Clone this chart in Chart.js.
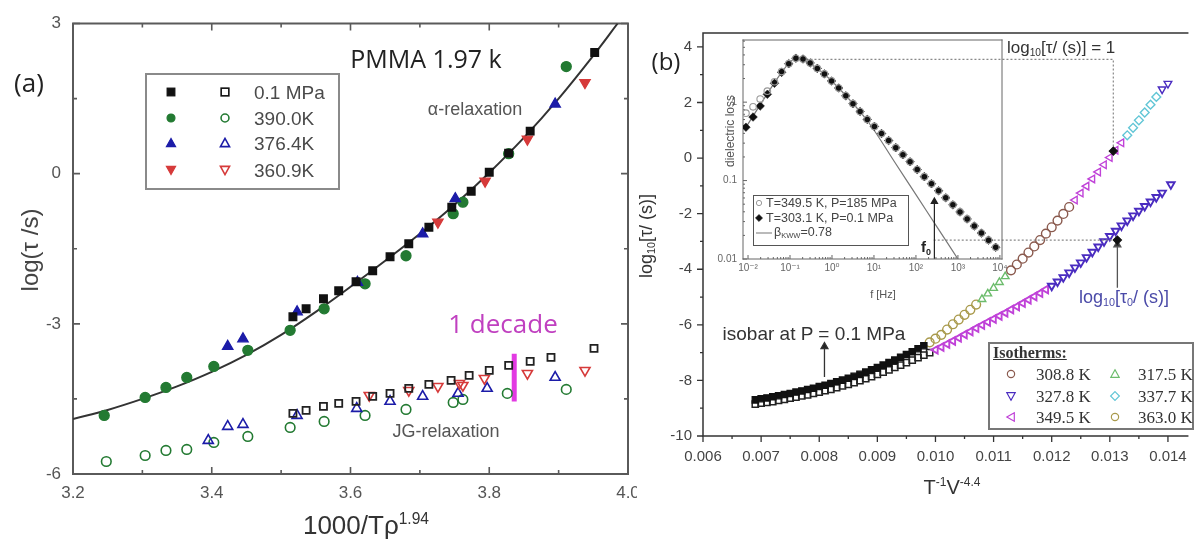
<!DOCTYPE html>
<html><head><meta charset="utf-8">
<script src="https://cdn.jsdelivr.net/npm/chart.js@4.4.1/dist/chart.umd.min.js"></script>
<style>
html,body{margin:0;padding:0;background:#fff;}
#wrap{position:relative;width:1194px;height:540px;overflow:hidden;background:#fff;font-family:'Liberation Sans',Arial,sans-serif;}
canvas{position:absolute;}
.t{position:absolute;white-space:nowrap;line-height:1;transform:translate(-50%,-50%);}
.l{position:absolute;white-space:nowrap;line-height:1;transform:translate(0,-50%);}
.sup{font-size:0.6em;position:relative;top:-0.65em;}
.sub{font-size:0.6em;position:relative;top:0.3em;}
.box{position:absolute;box-sizing:border-box;background:#fff;}
.mk{position:absolute;transform:translate(-50%,-50%);line-height:0;}
</style></head><body>
<div id="wrap">
<canvas id="ca" width="637" height="540" style="left:0;top:0"></canvas>
<canvas id="cb" width="574" height="540" style="left:620px;top:0"></canvas>
<canvas id="cc" width="320" height="280" style="left:700px;top:30px"></canvas>

<!-- panel (a) texts -->
<div class="t" style="left:29px;top:82px;font-family:'Open Sans';font-size:26px;color:#222">(a)</div>
<div class="t" style="left:426px;top:58px;font-family:'Open Sans';font-size:25px;color:#222">PMMA 1.97 k</div>
<div class="t" style="left:475px;top:109px;font-size:18px;color:#555">α-relaxation</div>
<div class="t" style="left:446px;top:431px;font-size:18px;color:#555">JG-relaxation</div>
<div class="t" style="left:503px;top:323px;font-family:'Open Sans';font-size:26px;color:#c040c0">1 decade</div>
<div class="t" style="left:30px;top:250px;font-size:24px;color:#444;transform:translate(-50%,-50%) rotate(-90deg)">log(τ /s)</div>
<div class="t" style="left:366px;top:525px;font-size:26px;color:#333">1000/Tρ<span class="sup">1.94</span></div>
<div class="box" id="legA" style="left:145px;top:73px;width:195px;height:117px;border:2px solid #8a8a8a;background:transparent"></div>

<!-- panel (b) texts -->
<div class="t" style="left:666px;top:61px;font-family:'Open Sans';font-size:24px;color:#222">(b)</div>
<div class="t" style="left:646px;top:236px;font-size:18px;color:#333;transform:translate(-50%,-50%) rotate(-90deg)">log<span class="sub">10</span>[τ/ (s)]</div>
<div class="t" style="left:952px;top:487px;font-size:20px;color:#333">T<span class="sup">-1</span>V<span class="sup">-4.4</span></div>
<div class="t" style="left:814px;top:333px;font-size:19px;color:#333">isobar at P = 0.1 MPa</div>
<div class="l" style="left:1007px;top:47px;font-size:17px;color:#333">log<span class="sub">10</span>[τ/ (s)] = 1</div>
<div class="t" style="left:1124px;top:297px;font-size:18px;color:#4a4aa8">log<span class="sub">10</span>[τ<span class="sub">0</span>/ (s)]</div>
<div class="t" style="left:926px;top:246px;font-size:15px;font-weight:bold;color:#222">f<span class="sub">0</span></div>
<div class="t" style="left:730px;top:131px;font-size:12px;color:#555;transform:translate(-50%,-50%) rotate(-90deg)">dielectric loss</div>
<div class="t" style="left:883px;top:294px;font-size:11px;color:#555">f [Hz]</div>
<div class="box" id="legC" style="left:753px;top:195px;width:156px;height:51px;border:1px solid #555"></div>
<div class="box" id="legB" style="left:988px;top:342px;width:206px;height:88px;border:2px solid #777"></div>
</div>

<script>
// ---------------- DATA: panel (a) ----------------
const aXTicks = [3.2, 3.4, 3.6, 3.8, 4.0];
const aXMinor = [3.3, 3.5, 3.7, 3.9];
const aYTicks = [-6, -3, 0, 3];
const aYMinor = [-4.5, -1.5, 1.5];
const aSeriesNames = ['0.1 MPa', '390.0K', '376.4K', '360.9K'];

const aAlphaBlackX = [3.517,3.536,3.561,3.583,3.608,3.632,3.657,3.684,3.713,3.746,3.774,3.80,3.828,3.859,3.952];
const aAlphaBlackY = [-2.86,-2.70,-2.50,-2.34,-2.16,-1.94,-1.66,-1.40,-1.07,-0.67,-0.35,0.03,0.41,0.85,2.42];
const aAlphaGreenX = [3.245,3.304,3.334,3.364,3.403,3.452,3.513,3.562,3.621,3.68,3.748,3.762,3.828,3.911];
const aAlphaGreenY = [-4.83,-4.47,-4.27,-4.07,-3.85,-3.53,-3.13,-2.70,-2.20,-1.64,-0.80,-0.57,0.40,2.14];
const aAlphaBlueX = [3.423,3.445,3.523,3.61,3.704,3.751,3.895];
const aAlphaBlueY = [-3.45,-3.30,-2.76,-2.17,-1.20,-0.50,1.39];
const aAlphaRedX = [3.726,3.794,3.855,3.938];
const aAlphaRedY = [-0.97,-0.15,0.69,1.82];

const aJGBlackX = [3.517,3.536,3.561,3.583,3.608,3.632,3.657,3.684,3.713,3.745,3.771,3.80,3.828,3.859,3.889,3.951];
const aJGBlackY = [-4.79,-4.73,-4.65,-4.59,-4.55,-4.45,-4.39,-4.29,-4.21,-4.13,-4.03,-3.93,-3.83,-3.75,-3.67,-3.49];
const aJGGreenX = [3.248,3.304,3.334,3.364,3.403,3.452,3.513,3.562,3.621,3.68,3.748,3.762,3.826,3.911];
const aJGGreenY = [-5.75,-5.63,-5.53,-5.51,-5.37,-5.25,-5.07,-4.95,-4.83,-4.71,-4.57,-4.51,-4.39,-4.31];
const aJGBlueX = [3.395,3.423,3.445,3.523,3.609,3.657,3.704,3.755,3.797,3.895];
const aJGBlueY = [-5.33,-5.05,-5.01,-4.83,-4.69,-4.55,-4.45,-4.39,-4.29,-4.07];
const aJGRedX = [3.627,3.684,3.726,3.757,3.762,3.793,3.855,3.938];
const aJGRedY = [-4.43,-4.33,-4.25,-4.19,-4.23,-4.09,-3.99,-3.93];

const aFitX = [3.2,3.25,3.3,3.35,3.4,3.45,3.5,3.55,3.6,3.65,3.7,3.75,3.8,3.85,3.9,3.95,3.985];
const aFitY = [-4.90,-4.72,-4.50,-4.25,-3.96,-3.62,-3.22,-2.76,-2.26,-1.74,-1.20,-0.62,0.02,0.72,1.50,2.36,3.0];
const aDecadeX = [3.836, 3.836];
const aDecadeY = [-3.60, -4.55];

// ---------------- DATA: panel (b) ----------------
const bXTicks = [0.006,0.007,0.008,0.009,0.010,0.011,0.012,0.013,0.014];
const bXMinor = [0.0065,0.0075,0.0085,0.0095,0.0105,0.0115,0.0125,0.0135];
const bYTicks = [-10,-8,-6,-4,-2,0,2,4];
const bYMinor = [-9,-7,-5,-3,-1,1,3];
const bIsoNames = ['308.8 K','317.5 K','327.8 K','337.7 K','349.5 K','363.0 K'];

const bIsobarAlphaX = [0.0069,0.0070,0.0071,0.0072,0.0073,0.0074,0.0075,0.0076,0.0077,0.0078,0.0079,0.0080,0.0081,0.0082,0.0083,0.0084,0.0085,0.0086,0.0087,0.0088,0.0089,0.0090,0.0091,0.0092,0.0093,0.0094,0.0095,0.0096,0.0097,0.0098];
const bIsobarAlphaY = [-8.70,-8.66,-8.63,-8.59,-8.55,-8.51,-8.47,-8.42,-8.38,-8.33,-8.28,-8.22,-8.17,-8.11,-8.05,-7.99,-7.92,-7.85,-7.78,-7.70,-7.62,-7.54,-7.45,-7.36,-7.27,-7.17,-7.07,-6.97,-6.86,-6.75];
const bIsobarTau0X = [0.0069,0.0070,0.0071,0.0072,0.0073,0.0074,0.0075,0.0076,0.0077,0.0078,0.0079,0.0080,0.0081,0.0082,0.0083,0.0084,0.0085,0.0086,0.0087,0.0088,0.0089,0.0090,0.0091,0.0092,0.0093,0.0094,0.0095,0.0096,0.0097,0.0098,0.0099];
const bIsobarTau0Y = [-8.85,-8.82,-8.79,-8.76,-8.72,-8.68,-8.64,-8.60,-8.56,-8.52,-8.47,-8.42,-8.37,-8.32,-8.26,-8.20,-8.14,-8.08,-8.01,-7.94,-7.86,-7.78,-7.70,-7.62,-7.53,-7.45,-7.36,-7.27,-7.18,-7.09,-7.00];

const b363X = [0.0099,0.0100,0.0101,0.0102,0.0103,0.0104,0.0105,0.0106,0.0107];
const b363Y = [-6.63,-6.50,-6.36,-6.17,-5.98,-5.81,-5.64,-5.46,-5.27];
const b317X = [0.0108,0.0109,0.0110,0.0111,0.0112];
const b317Y = [-5.08,-4.88,-4.68,-4.47,-4.26];
const b308X = [0.0113,0.0114,0.0115,0.0116,0.0117,0.0118,0.0119,0.0120,0.0121,0.0122,0.0123];
const b308Y = [-4.04,-3.83,-3.62,-3.40,-3.18,-2.95,-2.72,-2.49,-2.25,-2.01,-1.76];
const b349UpX = [0.0124,0.0125,0.0126,0.0127,0.0128,0.0129,0.0130,0.0131,0.0132];
const b349UpY = [-1.51,-1.26,-1.01,-0.75,-0.50,-0.24,0.02,0.28,0.55];
const b337X = [0.0133,0.0134,0.0135,0.0136,0.0137,0.0138];
const b337Y = [0.82,1.09,1.36,1.64,1.92,2.20];
const b327UpX = [0.0139,0.0140];
const b327UpY = [2.48,2.68];
const b349LowX = [0.0100,0.0101,0.0102,0.0103,0.0104,0.0105,0.0106,0.0107,0.0108,0.0109,0.0110,0.0111,0.0112,0.0113,0.0114,0.0115,0.0116,0.0117,0.0118,0.0119];
const b349LowY = [-6.90,-6.80,-6.69,-6.58,-6.47,-6.35,-6.24,-6.12,-6.01,-5.90,-5.79,-5.68,-5.57,-5.45,-5.34,-5.22,-5.10,-4.98,-4.86,-4.73];
const b327LowX = [0.0120,0.0121,0.0122,0.0123,0.0124,0.0125,0.0126,0.0127,0.0128,0.0129,0.0130,0.0131,0.0132,0.0133,0.0134,0.0135,0.0136,0.0137,0.0138,0.0139,0.01405];
const b327LowY = [-4.60,-4.45,-4.29,-4.12,-3.94,-3.76,-3.57,-3.38,-3.19,-3.00,-2.81,-2.62,-2.43,-2.25,-2.07,-1.90,-1.73,-1.57,-1.41,-1.25,-0.95];
const bRefX = [0.01306, 0.01313];
const bRefY = [0.25, -2.95];
// guide lines (data units)
const bGuideTopX = [0.00778, 0.01306, 0.01306];
const bGuideTopY = [3.55, 3.55, 0.29];
const bGuideLowX = [0.00997, 0.01313];
const bGuideLowY = [-2.95, -2.95];
const bTau0ArrowX = [0.01313, 0.01313];
const bTau0ArrowY = [-4.67, -3.12];
const bIsobarArrowX = [0.00809, 0.00809];
const bIsobarArrowY = [-7.88, -6.78];

// ---------------- DATA: inset ----------------
const cXTicks = [0.01, 0.1, 1, 10, 100, 1000, 10000];
const cYTicks = [0.01, 0.1, 1];
const cFreq = [0.008913,0.013183,0.019498,0.028840,0.042658,0.063096,0.093325,0.138038,0.204174,0.301995,0.446684,0.660693,0.977237,1.44544,2.13796,3.16228,4.67735,6.91831,10.2329,15.1356,22.3872,33.1131,48.9779,72.4436,107.152,158.489,234.423,346.737,512.861,758.578,1122.02,1659.59,2454.71,3630.78,5370.32,7943.28];
const cLoss303 = [0.4786,0.6457,0.8913,1.2589,1.7378,2.3988,3.0903,3.6308,3.5481,3.1623,2.6915,2.2909,1.8621,1.5136,1.2023,0.9550,0.7586,0.6026,0.4898,0.3981,0.3236,0.2630,0.2138,0.1738,0.1380,0.1122,0.0912,0.0741,0.0603,0.0490,0.0398,0.0324,0.0263,0.0214,0.0174,0.0141];
const cLoss349 = [0.7244,0.8710,1.0965,1.3804,1.8197,2.4547,3.0903,3.6308,3.5481,3.1623,2.6915,2.2909,1.8621,1.5136,1.2023,0.9550,0.7586,0.6026,0.4898,0.3981,0.3236,0.2630,0.2138,0.1738,0.1380,0.1122,0.0912,0.0741,0.0603,0.0490,0.0398,0.0324,0.0263,0.0214,0.0174,0.0141];
const cKwwF = [0.008913,0.063096,0.138038,0.446684,1.44544,7.2444,31.6228,100,316.228,1000];
const cKwwLoss = [0.4786,2.3988,3.6308,2.6915,1.5136,0.5623,0.1698,0.0661,0.0257,0.0100];
const cF0ArrowX = [275, 275];
const cF0ArrowY = [0.0101, 0.054];

// ---------------- helpers ----------------
const pts = (xs, ys) => xs.map((x, i) => ({x, y: ys[i]}));
const frameTicks = {
  id: 'frameTicks',
  beforeDatasetsDraw(chart, args, o) {
    const {ctx, chartArea: a} = chart; const xs = chart.scales.x, ys = chart.scales.y;
    ctx.save();
    ctx.strokeStyle = o.color; ctx.lineWidth = o.width; ctx.lineCap = 'square';
    ctx.beginPath();
    if (o.sides.includes('top')) { ctx.moveTo(a.left, a.top); ctx.lineTo(a.right, a.top); }
    if (o.sides.includes('bottom')) { ctx.moveTo(a.left, a.bottom); ctx.lineTo(a.right, a.bottom); }
    if (o.sides.includes('left')) { ctx.moveTo(a.left, a.top); ctx.lineTo(a.left, a.bottom); }
    if (o.sides.includes('right')) { ctx.moveTo(a.right, a.top); ctx.lineTo(a.right, a.bottom); }
    ctx.stroke();
    ctx.lineCap = 'butt';
    ctx.lineWidth = o.tickWidth || o.width;
    const d = o.inward ? 1 : -1;
    ctx.beginPath();
    const xt = (vals, len) => vals.forEach(v => {
      const p = xs.getPixelForValue(v); if (p < a.left - 1 || p > a.right + 1) return;
      o.tickSides.forEach(s => {
        if (s === 'bottom') { ctx.moveTo(p, a.bottom); ctx.lineTo(p, a.bottom - d * len); }
        if (s === 'top') { ctx.moveTo(p, a.top); ctx.lineTo(p, a.top + d * len); }
      });
    });
    const yt = (vals, len) => vals.forEach(v => {
      const p = ys.getPixelForValue(v); if (p < a.top - 1 || p > a.bottom + 1) return;
      o.tickSides.forEach(s => {
        if (s === 'left') { ctx.moveTo(a.left, p); ctx.lineTo(a.left + d * len, p); }
        if (s === 'right') { ctx.moveTo(a.right, p); ctx.lineTo(a.right - d * len, p); }
      });
    });
    xt(o.xMajor, o.majorLen); xt(o.xMinor, o.minorLen);
    yt(o.yMajor, o.majorLen); yt(o.yMinor, o.minorLen);
    ctx.stroke();
    ctx.restore();
  }
};
function sc(data, style) {
  return Object.assign({data, pointRadius: 4, pointBorderWidth: 1.3, showLine: false}, style);
}
const baseOpts = (pad) => ({
  responsive: false, animation: false, devicePixelRatio: 1, events: [],
  layout: {padding: pad},
  plugins: {legend: {display: false}, tooltip: {enabled: false}}
});
const fixAxis = (size, horiz) => (s) => {
  if (horiz) s.height = size; else s.width = size;
  s.paddingLeft = 0; s.paddingRight = 0; s.paddingTop = 0; s.paddingBottom = 0;
};

// ---------------- chart (a) ----------------
const optsA = baseOpts({left: 0, right: 9, top: 23.5, bottom: 0});
optsA.plugins.frameTicks = {color: '#5a5a5a', width: 2, tickWidth: 1.6, inward: true,
  sides: ['top','bottom','left','right'], tickSides: ['top','bottom','left','right'],
  xMajor: aXTicks, xMinor: aXMinor, yMajor: aYTicks, yMinor: aYMinor, majorLen: 7, minorLen: 4};
const tickFontA = {family: 'Liberation Sans', size: 17};
optsA.scales = {
  x: {type: 'linear', min: 3.2, max: 4.0, grid: {display: false, drawTicks: false}, border: {display: false},
      ticks: {font: tickFontA, color: '#555', padding: 9, autoSkip: false, maxRotation: 0, callback: v => Number(v).toFixed(1)},
      afterBuildTicks: s => { s.ticks = aXTicks.map(v => ({value: v})); }, afterFit: fixAxis(66, true)},
  y: {type: 'linear', min: -6, max: 3, grid: {display: false, drawTicks: false}, border: {display: false},
      ticks: {font: tickFontA, color: '#555', padding: 12, autoSkip: false, callback: v => String(v)},
      afterBuildTicks: s => { s.ticks = aYTicks.map(v => ({value: v})); }, afterFit: fixAxis(73, false)}
};
const cBlack = '#111', cGreen = '#237a32', cBlue = '#1c1ca8', cRed = '#d63a3a';
new Chart(document.getElementById('ca'), {
  type: 'scatter',
  data: {datasets: [
    sc(pts(aAlphaBlackX, aAlphaBlackY), {pointStyle: 'rect', pointRadius: 5.4, backgroundColor: cBlack, borderColor: cBlack}),
    sc(pts(aAlphaRedX, aAlphaRedY), {pointStyle: 'triangle', rotation: 180, pointRadius: 6, backgroundColor: cRed, borderColor: cRed}),
    sc(pts(aAlphaBlueX, aAlphaBlueY), {pointStyle: 'triangle', pointRadius: 6, backgroundColor: cBlue, borderColor: cBlue}),
    sc(pts(aAlphaGreenX, aAlphaGreenY), {pointStyle: 'circle', pointRadius: 5, backgroundColor: cGreen, borderColor: cGreen}),
    sc(pts(aJGBlackX, aJGBlackY), {pointStyle: 'rect', pointRadius: 5, backgroundColor: 'rgba(255,255,255,0)', borderColor: '#222', pointBorderWidth: 1.8}),
    sc(pts(aJGRedX, aJGRedY), {pointStyle: 'triangle', rotation: 180, pointRadius: 5.8, backgroundColor: 'rgba(255,255,255,0)', borderColor: cRed, pointBorderWidth: 1.6}),
    sc(pts(aJGBlueX, aJGBlueY), {pointStyle: 'triangle', pointRadius: 5.8, backgroundColor: 'rgba(255,255,255,0)', borderColor: cBlue, pointBorderWidth: 1.6}),
    sc(pts(aJGGreenX, aJGGreenY), {pointStyle: 'circle', pointRadius: 4.8, backgroundColor: 'rgba(255,255,255,0)', borderColor: cGreen, pointBorderWidth: 1.6}),
    sc(pts(aDecadeX, aDecadeY), {showLine: true, borderColor: '#e23ae2', borderWidth: 5, pointRadius: 0, borderCapStyle: 'butt'}),
    sc(pts(aFitX, aFitY), {showLine: true, borderColor: '#333', borderWidth: 2, pointRadius: 0, tension: 0.4})
  ]},
  options: optsA,
  plugins: [frameTicks]
});

// ---------------- chart (b) ----------------
const optsB = baseOpts({left: 0, right: 0, top: 33, bottom: 0});
optsB.plugins.frameTicks = {color: '#333', width: 1.5, tickWidth: 1.3, inward: false,
  sides: ['top','bottom','left'], tickSides: ['bottom','left'],
  xMajor: bXTicks, xMinor: bXMinor, yMajor: bYTicks, yMinor: bYMinor, majorLen: 6, minorLen: 3};
const tickFontB = {family: 'Liberation Sans', size: 15};
optsB.scales = {
  x: {type: 'linear', min: 0.006, max: 0.01434, grid: {display: false, drawTicks: false}, border: {display: false},
      ticks: {font: tickFontB, color: '#444', padding: 12, autoSkip: false, maxRotation: 0, callback: v => Number(v).toFixed(3)},
      afterBuildTicks: s => { s.ticks = bXTicks.map(v => ({value: v})); }, afterFit: fixAxis(104, true)},
  y: {type: 'linear', min: -10, max: 4.5, grid: {display: false, drawTicks: false}, border: {display: false},
      ticks: {font: tickFontB, color: '#444', padding: 11, autoSkip: false, callback: v => String(v)},
      afterBuildTicks: s => { s.ticks = bYTicks.map(v => ({value: v})); }, afterFit: fixAxis(83, false)}
};
const iso = {
  '308.8 K': {style: 'circle', rot: 0, color: '#8a5a4e'},
  '317.5 K': {style: 'triangle', rot: 0, color: '#6cbc6c'},
  '327.8 K': {style: 'triangle', rot: 180, color: '#4a2cc0'},
  '337.7 K': {style: 'rectRot', rot: 0, color: '#62c6d6'},
  '349.5 K': {style: 'triangle', rot: -90, color: '#c042d8'},
  '363.0 K': {style: 'circle', rot: 0, color: '#a99a4c'}
};
const isoDs = (name, xs, ys, bw) => sc(pts(xs, ys), {pointStyle: iso[name].style, rotation: iso[name].rot, pointRadius: 4.4,
  backgroundColor: 'rgba(255,255,255,0)', borderColor: iso[name].color, pointBorderWidth: bw || 1.4});
new Chart(document.getElementById('cb'), {
  type: 'scatter',
  data: {datasets: [
    sc(pts(bRefX, bRefY), {pointStyle: 'rectRot', pointRadius: 4, backgroundColor: '#111', borderColor: '#111'}),
    sc(pts(bTau0ArrowX, bTau0ArrowY), {showLine: true, borderWidth: 1.3, pointStyle: 'triangle', pointRadius: [0, 4], backgroundColor: '#333', borderColor: '#555'}),
    sc(pts(bIsobarArrowX, bIsobarArrowY), {showLine: true, borderColor: '#333', borderWidth: 1.3, pointStyle: 'triangle', pointRadius: [0, 4], backgroundColor: '#222'}),
    sc(pts(bGuideTopX, bGuideTopY), {showLine: true, borderColor: '#888', borderWidth: 1.2, borderDash: [2, 2], pointRadius: 0}),
    sc(pts(bGuideLowX, bGuideLowY), {showLine: true, borderColor: '#888', borderWidth: 1.2, borderDash: [2, 2], pointRadius: 0}),
    sc(pts(bIsobarAlphaX, bIsobarAlphaY), {pointStyle: 'rect', pointRadius: 4.4, backgroundColor: '#111', borderColor: '#111'}),
    isoDs('327.8 K', b327UpX, b327UpY),
    isoDs('337.7 K', b337X, b337Y),
    isoDs('349.5 K', b349UpX, b349UpY),
    isoDs('308.8 K', b308X, b308Y),
    isoDs('317.5 K', b317X, b317Y),
    isoDs('363.0 K', b363X, b363Y),
    isoDs('327.8 K', b327LowX, b327LowY, 1.9),
    isoDs('349.5 K', b349LowX, b349LowY, 1.9),
    sc(pts(bIsobarTau0X, bIsobarTau0Y), {pointStyle: 'rect', pointRadius: 4.4, backgroundColor: 'rgba(255,255,255,0)', borderColor: '#222', pointBorderWidth: 1.5})
  ]},
  options: optsB,
  plugins: [frameTicks]
});

// ---------------- inset ----------------
const sups = {'-': '⁻', '0': '⁰', '1': '¹', '2': '²', '3': '³', '4': '⁴', '5': '⁵', '6': '⁶', '7': '⁷', '8': '⁸', '9': '⁹'};
const optsC = baseOpts({left: 0, right: 18, top: 10, bottom: 0});
const cXMinor = [], cYMinor = [];
cXTicks.forEach(d => [2,3,4,5,6,7,8,9].forEach(m => cXMinor.push(d * m)));
[0.01, 0.1, 1].forEach(d => [2,3,4,5,6,7,8,9].forEach(m => cYMinor.push(d * m)));
optsC.plugins.frameTicks = {color: '#666', width: 1, tickWidth: 1, inward: true,
  sides: ['top','bottom','left','right'], tickSides: ['bottom','left'],
  xMajor: cXTicks, xMinor: cXMinor, yMajor: cYTicks, yMinor: cYMinor, majorLen: 4, minorLen: 2};
const tickFontC = {family: "'Liberation Sans', 'DejaVu Sans'", size: 10};
optsC.scales = {
  x: {type: 'logarithmic', min: 0.00759, max: 11220, grid: {display: false, drawTicks: false}, border: {display: false},
      ticks: {font: tickFontC, color: '#666', padding: 3, autoSkip: false, maxRotation: 0,
        callback: v => '10' + String(Math.round(Math.log10(v))).split('').map(c => sups[c]).join('')},
      afterBuildTicks: s => { s.ticks = cXTicks.map(v => ({value: v})); }, afterFit: fixAxis(51, true)},
  y: {type: 'logarithmic', min: 0.01, max: 6.2, grid: {display: false, drawTicks: false}, border: {display: false},
      ticks: {font: tickFontC, color: '#666', padding: 6, autoSkip: false, callback: v => String(Number(v.toPrecision(2)))},
      afterBuildTicks: s => { s.ticks = cYTicks.map(v => ({value: v})); }, afterFit: fixAxis(43, false)}
};
new Chart(document.getElementById('cc'), {
  type: 'scatter',
  data: {datasets: [
    sc(pts(cF0ArrowX, cF0ArrowY), {showLine: true, borderColor: '#222', borderWidth: 1.2, pointStyle: 'triangle', pointRadius: [0, 3.5], backgroundColor: '#222'}),
    sc(pts(cFreq, cLoss349), {pointStyle: 'circle', pointRadius: 3.3, backgroundColor: 'rgba(255,255,255,0)', borderColor: '#9a9a9a', pointBorderWidth: 1.1}),
    sc(pts(cFreq, cLoss303), {pointStyle: 'rectRot', pointRadius: 4.3, backgroundColor: '#111', borderColor: '#111', pointBorderWidth: 0.5}),
    sc(pts(cKwwF, cKwwLoss), {showLine: true, borderColor: '#777', borderWidth: 1.2, pointRadius: 0, tension: 0.3})
  ]},
  options: optsC,
  plugins: [frameTicks]
});

// ---------------- legends (HTML) ----------------
function markerSVG(shape, color, filled, s, sw) {
  const h = s / 2, f = filled ? color : '#fff';
  let el = '';
  const st = `fill="${f}" stroke="${color}" stroke-width="${sw}"`;
  if (shape === 'rect') el = `<rect x="${h - s*0.32}" y="${h - s*0.32}" width="${s*0.64}" height="${s*0.64}" ${st}/>`;
  if (shape === 'circle') el = `<circle cx="${h}" cy="${h}" r="${s*0.33}" ${st}/>`;
  if (shape === 'tri') el = `<polygon points="${h},${h - s*0.38} ${h - s*0.38},${h + s*0.3} ${h + s*0.38},${h + s*0.3}" ${st}/>`;
  if (shape === 'triDown') el = `<polygon points="${h},${h + s*0.38} ${h - s*0.38},${h - s*0.3} ${h + s*0.38},${h - s*0.3}" ${st}/>`;
  if (shape === 'triLeft') el = `<polygon points="${h - s*0.38},${h} ${h + s*0.3},${h - s*0.38} ${h + s*0.3},${h + s*0.38}" ${st}/>`;
  if (shape === 'diamond') el = `<polygon points="${h},${h - s*0.4} ${h + s*0.4},${h} ${h},${h + s*0.4} ${h - s*0.4},${h}" ${st}/>`;
  return `<svg width="${s}" height="${s}" viewBox="0 0 ${s} ${s}">${el}</svg>`;
}
const wrap = document.getElementById('wrap');
function put(html, cls, x, y, css) {
  const d = document.createElement('div'); d.className = cls; d.style.left = x + 'px'; d.style.top = y + 'px';
  if (css) d.style.cssText += css; d.innerHTML = html; wrap.appendChild(d);
}
// legend (a)
const legAShapes = ['rect', 'circle', 'tri', 'triDown'];
const legAColors = [cBlack, cGreen, cBlue, cRed];
const legARowY = [92, 118, 143, 170];
aSeriesNames.forEach((name, i) => {
  put(markerSVG(legAShapes[i], legAColors[i], true, 12, 1.2), 'mk', 171, legARowY[i]);
  put(markerSVG(legAShapes[i], legAColors[i], false, 12, 1.6), 'mk', 225, legARowY[i]);
  put(name, 'l', 254, legARowY[i], 'font-size:19px;color:#4a4a4a;');
});
// legend (b)
put('Isotherms:', 'l', 993, 353, "font-family:'Liberation Serif';font-weight:bold;font-size:16px;text-decoration:underline;color:#333;");
const legBShape = {'308.8 K': 'circle', '317.5 K': 'tri', '327.8 K': 'triDown', '337.7 K': 'diamond', '349.5 K': 'triLeft', '363.0 K': 'circle'};
const legBPos = {'308.8 K': [0, 0], '327.8 K': [0, 1], '349.5 K': [0, 2], '317.5 K': [1, 0], '337.7 K': [1, 1], '363.0 K': [1, 2]};
const legBRowY = [374, 396, 417];
bIsoNames.forEach(name => {
  const [c, r] = legBPos[name];
  const mx = c === 0 ? 1011 : 1115, tx = c === 0 ? 1036 : 1138;
  put(markerSVG(legBShape[name], iso[name].color, false, 11, 1.2), 'mk', mx, legBRowY[r]);
  put(name, 'l', tx, legBRowY[r], "font-family:'Liberation Serif';font-size:17px;color:#333;");
});
// legend (inset)
put(markerSVG('circle', '#9a9a9a', false, 8, 1), 'mk', 759, 203);
put('T=349.5 K, P=185 MPa', 'l', 766, 203, 'font-size:12.5px;color:#444;');
put(markerSVG('diamond', '#111', true, 9, 0.5), 'mk', 759, 218);
put('T=303.1 K, P=0.1 MPa', 'l', 766, 218, 'font-size:12.5px;color:#444;');
put('<div style="width:16px;height:0;border-top:1.2px solid #777"></div>', 'mk', 764, 233);
put('β<span class="sub">KWW</span>=0.78', 'l', 774, 232, 'font-size:12.5px;color:#444;');
</script>
</body></html>
